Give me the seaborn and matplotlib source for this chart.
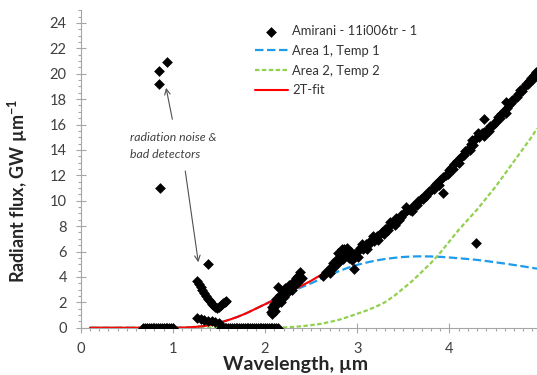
import numpy as np
import pandas as pd
import seaborn as sns
import matplotlib.pyplot as plt
from matplotlib.ticker import MultipleLocator

# model curves (wavelength in um, flux in GW um-1)
model_wl = [0.1, 0.2, 0.3, 0.4, 0.5, 0.6, 0.7, 0.8, 0.9, 1.0,
            1.1, 1.2, 1.3, 1.4, 1.5, 1.6, 1.7, 1.8, 1.9, 2.0,
            2.1, 2.2, 2.3, 2.4, 2.5, 2.6, 2.7, 2.8, 2.9, 3.0,
            3.1, 3.2, 3.3, 3.4, 3.5, 3.6, 3.7, 3.8, 3.9, 4.0,
            4.1, 4.2, 4.3, 4.4, 4.5, 4.6, 4.7, 4.8, 4.9, 4.95]
fit_2t = [0, 0, 0, 0, 0, 0, 0, 0, 0, 0,
          0.01, 0.04, 0.1, 0.2, 0.38, 0.6, 0.85, 1.15, 1.5, 1.85,
          2.2, 2.57, 2.96, 3.32, 3.7, 4.13, 4.6, 5.07, 5.57, 6.05,
          6.48, 6.94, 7.41, 8.0, 8.67, 9.31, 10.02, 10.71, 11.48, 12.33,
          13.17, 13.91, 14.64, 15.45, 16.25, 17.15, 18.04, 18.9, 19.7, 20.1]
area1_temp1 = [0, 0, 0, 0, 0, 0, 0, 0, 0, 0,
               0.01, 0.04, 0.1, 0.2, 0.38, 0.6, 0.85, 1.15, 1.5, 1.85,
               2.2, 2.55, 2.9, 3.2, 3.5, 3.83, 4.15, 4.45, 4.72, 4.95,
               5.13, 5.29, 5.41, 5.5, 5.57, 5.61, 5.62, 5.61, 5.58, 5.53,
               5.47, 5.41, 5.34, 5.25, 5.15, 5.05, 4.94, 4.83, 4.71, 4.65]
area2_temp2 = [0, 0, 0, 0, 0, 0, 0, 0, 0, 0,
               0, 0, 0, 0, 0, 0, 0, 0, 0, 0,
               0, 0.02, 0.06, 0.12, 0.2, 0.3, 0.45, 0.62, 0.85, 1.1,
               1.35, 1.65, 2.0, 2.5, 3.1, 3.7, 4.4, 5.1, 5.9, 6.8,
               7.7, 8.5, 9.3, 10.2, 11.1, 12.1, 13.1, 14.1, 15.1, 15.7]

# Amirani spectrum - detectors reading zero
zero_wl = [0.68, 0.70, 0.72, 0.74, 0.76, 0.78, 0.80, 0.82, 0.84, 0.86, 0.88,
           0.90, 0.92, 0.94, 0.96, 0.98, 1.00,
           1.52, 1.54, 1.56, 1.58, 1.60, 1.62, 1.64, 1.66, 1.68, 1.70, 1.72,
           1.74, 1.76, 1.78, 1.80, 1.82, 1.84, 1.86, 1.88, 1.90, 1.92, 1.94,
           1.96, 1.98, 2.00, 2.02, 2.04, 2.06, 2.08, 2.10, 2.12, 2.14]

# radiation noise & bad detectors
noise_wl = [0.86, 0.85, 0.85, 0.94, 1.38,
            1.26, 1.28, 1.30, 1.32, 1.34, 1.36, 1.38, 1.40, 1.42, 1.44,
            1.46, 1.48, 1.50, 1.52, 1.54, 1.56, 1.58,
            1.26, 1.30, 1.34, 1.38, 1.42, 1.46, 1.50]
noise_flux = [11.0, 19.2, 20.2, 20.9, 5.05,
              3.7, 3.45, 3.2, 2.95, 2.7, 2.5, 2.3, 2.1, 1.9, 1.75,
              1.6, 1.55, 1.65, 1.8, 1.95, 2.05, 2.1,
              0.8, 0.65, 0.6, 0.55, 0.5, 0.45, 0.4]

# thermal emission part of the spectrum
thermal_wl = [2.06, 2.07, 2.08, 2.09, 2.10, 2.11, 2.12, 2.13, 2.14, 2.15,
              2.16, 2.17, 2.18, 2.19, 2.20, 2.21, 2.22, 2.23, 2.24, 2.25,
              2.26, 2.27, 2.28, 2.29, 2.30, 2.31, 2.32, 2.33, 2.34, 2.35,
              2.36, 2.37, 2.38, 2.40,
              2.63, 2.66, 2.69, 2.70, 2.72, 2.74, 2.75, 2.77, 2.79, 2.80,
              2.81, 2.83, 2.85, 2.86, 2.87, 2.89, 2.90, 2.91, 2.93, 2.94,
              2.96, 2.97, 3.00, 3.01, 3.03, 3.05, 3.06, 3.09, 3.11, 3.12,
              3.15, 3.17, 3.18, 3.21, 3.23, 3.24, 3.27, 3.29, 3.30, 3.33,
              3.35, 3.36, 3.39, 3.41, 3.42, 3.45, 3.47, 3.48, 3.51, 3.53,
              3.54, 3.57, 3.59, 3.60, 3.63, 3.65, 3.66, 3.69, 3.71, 3.72,
              3.75, 3.77, 3.78, 3.81, 3.83, 3.84, 3.87, 3.89, 3.90, 3.93,
              3.93, 3.96, 3.98, 3.99, 4.02, 4.04, 4.05, 4.08, 4.10, 4.11,
              4.14, 4.16, 4.17, 4.20, 4.22, 4.23, 4.25, 4.26, 4.29, 4.29,
              4.31, 4.32, 4.35, 4.37, 4.38, 4.38, 4.41, 4.43, 4.44, 4.47,
              4.49, 4.50, 4.53, 4.55, 4.56, 4.59, 4.61, 4.61, 4.62, 4.65,
              4.67, 4.68, 4.71, 4.73, 4.74, 4.77, 4.79, 4.80, 4.83, 4.85,
              4.86, 4.89, 4.91, 4.92, 4.94]
thermal_flux = [1.2, 1.1, 1.6, 1.5, 1.9, 1.35, 2.3, 1.9, 3.2, 2.2,
                2.6, 2.0, 2.4, 2.6, 2.9, 2.4, 3.1, 3.0, 2.8, 2.8,
                3.4, 3.2, 3.3, 3.0, 3.6, 3.4, 3.5, 3.7, 3.9, 3.5,
                4.1, 3.9, 4.4, 3.9,
                4.1, 4.4, 4.5, 4.3, 4.75, 5.1, 4.8, 5.3, 5.9, 5.2,
                5.6, 6.2, 5.4, 6.2, 5.9, 6.3, 5.9, 5.5, 6.0, 5.3,
                4.6, 5.8, 6.0, 5.6, 6.3, 6.6, 6.2, 6.6, 6.2, 6.5,
                6.9, 7.2, 6.8, 7.2, 6.9, 7.3, 7.5, 7.4, 7.8, 7.7,
                8.3, 8.1, 8.3, 8.1, 8.6, 8.5, 8.7, 8.9, 9.0, 9.5,
                9.3, 9.3, 9.2, 9.6, 9.7, 9.7, 10.0, 10.1, 10.1, 10.4,
                10.4, 10.6, 10.8, 10.9, 10.9, 11.2, 11.4, 11.2, 11.6, 10.6,
                11.9, 12.0, 12.1, 12.4, 12.6, 12.5, 12.9, 13.1, 13.0, 13.4,
                13.5, 13.6, 13.9, 14.1, 14.0, 14.5, 14.8, 14.4, 14.9, 6.65,
                15.3, 15.0, 15.3, 15.1, 16.4, 15.4, 15.6, 15.5, 15.9, 16.0,
                16.1, 16.3, 16.6, 16.5, 16.8, 17.1, 17.8, 16.9, 17.3, 17.6,
                17.7, 17.9, 18.1, 18.2, 18.4, 18.7, 18.6, 18.9, 19.2, 19.2,
                19.4, 19.7, 19.6, 19.9, 20.1]

spectrum = pd.DataFrame({
    "wl": zero_wl + noise_wl + thermal_wl,
    "flux": [0.0] * len(zero_wl) + noise_flux + thermal_flux,
})
curves = pd.DataFrame({"wl": model_wl, "fit": fit_2t,
                       "a1": area1_temp1, "a2": area2_temp2})

sns.set_style("ticks")
plt.rcParams["font.family"] = ["Lato", "DejaVu Sans"]
plt.rcParams["mathtext.fontset"] = "custom"
plt.rcParams["mathtext.rm"] = "Lato"
plt.rcParams["mathtext.bf"] = "Lato:bold"

fig = plt.figure(figsize=(5.37, 3.75), dpi=100)
ax = fig.add_axes([0.1503, 0.1261, 0.8497, 0.8467])

sns.scatterplot(data=spectrum, x="wl", y="flux", marker="D", s=30,
                color="black", linewidth=0, zorder=5,
                label="Amirani - 11i006tr - 1", ax=ax)
sns.lineplot(data=curves, x="wl", y="a1", color="#1E9BEA", lw=1.6,
             linestyle=(0, (3.8, 1.6)), label="Area 1, Temp 1", ax=ax)
sns.lineplot(data=curves, x="wl", y="a2", color="#92D050", lw=1.6,
             linestyle=(0, (2.0, 1.1)), label="Area 2, Temp 2", ax=ax)
sns.lineplot(data=curves, x="wl", y="fit", color="#FF0000", lw=1.5,
             label="2T-fit", ax=ax)

ax.set_xlim(0, 4.95)
ax.set_ylim(0, 25)
ax.xaxis.set_major_locator(MultipleLocator(1))
ax.xaxis.set_minor_locator(MultipleLocator(0.1))
ax.yaxis.set_major_locator(MultipleLocator(2))
ax.yaxis.set_minor_locator(MultipleLocator(0.5))
ax.set_yticks(range(0, 25, 2))

grey = "#A6A6A6"
ax.tick_params(which="major", direction="inout", length=7, width=0.8,
               color=grey, labelsize=10.5, labelcolor="#404040")
ax.tick_params(axis="y", which="major", pad=6.5)
ax.tick_params(axis="x", which="major", pad=7)
ax.tick_params(which="minor", direction="out", length=2.5, width=0.8, color=grey)
sns.despine(ax=ax)
for side in ("left", "bottom"):
    ax.spines[side].set_color(grey)
    ax.spines[side].set_linewidth(0.8)

ax.set_xlabel("Wavelength, µm", fontsize=14, fontweight="bold")
ax.set_ylabel(r"Radiant flux, GW µm$^{\mathbf{-1}}$", fontsize=13,
              fontweight="bold")
ax.xaxis.set_label_coords(0.47, -0.09)
ax.yaxis.set_label_coords(-0.112, 0.432)

# annotation for the noisy detectors
ax.text(0.535, 15.0, "radiation noise &", fontsize=8.8, style="italic",
        color="#404040", va="center", ha="left")
ax.text(0.535, 13.65, "bad detectors", fontsize=8.8, style="italic",
        color="#404040", va="center", ha="left")
arrow = dict(arrowstyle="->", color="#505050", lw=0.8)
ax.annotate("", xy=(0.92, 19.1), xytext=(1.0, 16.2), arrowprops=arrow)
ax.annotate("", xy=(1.28, 4.94), xytext=(1.13, 12.55), arrowprops=arrow)

ax.legend(loc="upper left", bbox_to_anchor=(255 / 537, 1 - 25 / 375),
          bbox_transform=fig.transFigure, frameon=False, fontsize=9.4,
          handlelength=2.5, handletextpad=0.35, labelspacing=0.6,
          borderaxespad=0, borderpad=0, labelcolor="#333333")

fig.savefig("out.png", dpi=100)
